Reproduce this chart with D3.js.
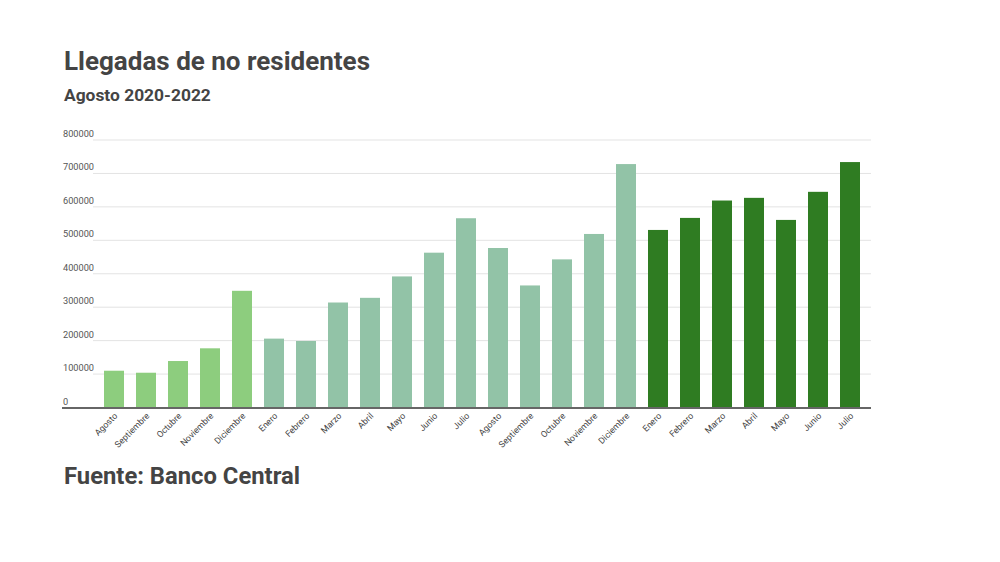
<html>
    <head>
        <meta charset="utf-8">
        <script src="https://d3js.org/d3.v7.min.js"></script>
        <title>Llegadas de no residentes</title>
        <style>
            body { margin: 0; background: #fff; }
            text { font-family: Roboto, "Noto Sans", sans-serif; }
        </style>
    </head>
    <body>
        <svg id="chart"></svg>
        <script>
            // months along the x axis (Aug 2020 - Jul 2022)
            const months = ["Agosto", "Septiembre", "Octubre", "Noviembre", "Diciembre",
                            "Enero", "Febrero", "Marzo", "Abril", "Mayo", "Junio", "Julio",
                            "Agosto", "Septiembre", "Octubre", "Noviembre", "Diciembre",
                            "Enero", "Febrero", "Marzo", "Abril", "Mayo", "Junio", "Julio"];
            const years = [2020, 2020, 2020, 2020, 2020,
                           2021, 2021, 2021, 2021, 2021, 2021, 2021,
                           2021, 2021, 2021, 2021, 2021,
                           2022, 2022, 2022, 2022, 2022, 2022, 2022];
            const arrivals = [110000, 104000, 139000, 177000, 349000,
                              206000, 199000, 314000, 328000, 392000, 463000, 566000,
                              477000, 365000, 443000, 519000, 728000,
                              531000, 567000, 619000, 627000, 561000, 645000, 734000];
            const yTicks = [0, 100000, 200000, 300000, 400000, 500000, 600000, 700000, 800000];
            const yearColors = {2020: "#8dcd7e", 2021: "#92c3a7", 2022: "#2f7c22"};

            const data = months.map((m, i) => ({i: i, month: m, year: years[i], value: arrivals[i]}));

            const width = 1000, height = 562;
            let svg = d3.select("svg#chart")
                        .attr("width", width)
                        .attr("height", height);

            const xScale = d3.scaleBand()
                             .domain(data.map(d => d.i))
                             .range([98, 866])
                             .paddingInner(0.375)
                             .paddingOuter(0.1875);

            const yScale = d3.scaleLinear()
                             .domain([0, 800000])
                             .range([407.5, 140]);

            // gridlines + y labels
            let grid = svg.append("g");
            grid.selectAll("line").data(yTicks.filter(t => t > 0))
                .join("line")
                .attr("x1", 93)
                .attr("x2", 871)
                .attr("y1", d => yScale(d))
                .attr("y2", d => yScale(d))
                .attr("stroke", "#e3e3e3")
                .attr("stroke-width", 1);
            grid.selectAll("text").data(yTicks)
                .join("text")
                .attr("x", 63)
                .attr("y", d => yScale(d) - 3)
                .attr("font-size", 9.2)
                .attr("fill", "#555")
                .text(d => d);

            // bars
            svg.selectAll("rect.bar").data(data)
               .join("rect")
               .attr("class", "bar")
               .attr("x", d => xScale(d.i))
               .attr("y", d => yScale(d.value))
               .attr("width", xScale.bandwidth())
               .attr("height", d => yScale(0) - yScale(d.value))
               .attr("fill", d => yearColors[d.year]);

            // baseline
            svg.append("line")
               .attr("x1", 62)
               .attr("x2", 871)
               .attr("y1", yScale(0) + 0.5)
               .attr("y2", yScale(0) + 0.5)
               .attr("stroke", "#666")
               .attr("stroke-width", 2);

            // rotated month labels
            svg.selectAll("text.month").data(data)
               .join("text")
               .attr("class", "month")
               .attr("transform", d => `translate(${xScale(d.i) + xScale.bandwidth() / 2 + 4},${yScale(0) + 9}) rotate(-45)`)
               .attr("text-anchor", "end")
               .attr("font-size", 8.8)
               .attr("fill", "#444")
               .text(d => d.month);

            // titles
            svg.append("text")
               .attr("x", 64).attr("y", 70)
               .attr("font-size", 26).attr("font-weight", "bold")
               .attr("fill", "#444")
               .text("Llegadas de no residentes");
            svg.append("text")
               .attr("x", 64).attr("y", 101)
               .attr("font-size", 17.4).attr("font-weight", "bold")
               .attr("fill", "#444")
               .text("Agosto 2020-2022");
            svg.append("text")
               .attr("x", 64).attr("y", 484)
               .attr("font-size", 23.8).attr("font-weight", "bold")
               .attr("fill", "#444")
               .text("Fuente: Banco Central");
        </script>
    </body>
</html>
